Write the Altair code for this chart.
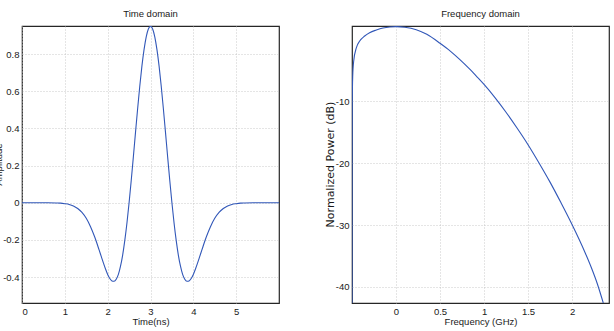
import altair as alt
import pandas as pd

# ---- Time-domain pulse ----
time_ns = [0.0, 0.2, 0.4, 0.6, 0.8, 0.9, 1.0, 1.1, 1.2, 1.3, 1.4, 1.5, 1.6, 1.7, 1.8,
           1.85, 1.9, 1.95, 2.0, 2.05, 2.1, 2.15, 2.2, 2.25, 2.3, 2.35, 2.4, 2.45,
           2.5, 2.55, 2.6, 2.65, 2.7, 2.75, 2.8, 2.85, 2.9, 2.95, 3.0,
           3.05, 3.1, 3.15, 3.2, 3.25, 3.3, 3.35, 3.4, 3.45, 3.5, 3.55, 3.6, 3.65,
           3.7, 3.75, 3.8, 3.85, 3.9, 3.95, 4.0, 4.05, 4.1, 4.15, 4.2, 4.3, 4.4,
           4.5, 4.6, 4.7, 4.8, 4.9, 5.0, 5.1, 5.2, 5.4, 5.6, 5.8, 6.0]
amplitude = [0.0, 0.0, 0.0, 0.0, -0.001, -0.002, -0.005, -0.009, -0.017, -0.031, -0.052,
             -0.084, -0.129, -0.186, -0.254, -0.289, -0.324, -0.357, -0.386, -0.408,
             -0.421, -0.423, -0.412, -0.386, -0.342, -0.282, -0.203, -0.109,
             0.0, 0.120, 0.248, 0.379, 0.508, 0.629, 0.737, 0.826, 0.894, 0.936, 0.95,
             0.936, 0.894, 0.826, 0.737, 0.629, 0.508, 0.379, 0.248, 0.120, 0.0,
             -0.109, -0.203, -0.282, -0.342, -0.386, -0.412, -0.423, -0.421, -0.408,
             -0.386, -0.357, -0.324, -0.289, -0.254, -0.186, -0.129, -0.084, -0.052,
             -0.031, -0.017, -0.009, -0.005, -0.002, -0.001, 0.0, 0.0, 0.0, 0.0]

# ---- Frequency-domain spectrum ----
freq_ghz = [-0.5, -0.499, -0.497, -0.492, -0.481, -0.45, -0.4125, -0.356, -0.3, -0.223,
            -0.148, -0.07, 0.0, 0.1, 0.23, 0.35, 0.5, 0.62, 0.723, 0.832, 0.932, 1.0,
            1.12, 1.25, 1.375, 1.5, 1.625, 1.75, 1.875, 2.0, 2.15, 2.22, 2.29, 2.355]
power_db = [-42.6, -20.0, -10.0, -6.0, -3.5, -1.3, -0.23, 0.58, 1.12, 1.56,
            1.88, 2.05, 2.1, 2.0, 1.6, 0.85, -0.6, -1.9, -3.2, -4.7, -6.2, -7.25,
            -9.3, -11.75, -14.3, -17.0, -19.95, -23.05, -26.4, -29.9, -34.5, -36.9,
            -39.6, -42.6]

time_ticks = [0, 1, 2, 3, 4, 5]
amp_ticks = [-0.4, -0.2, 0, 0.2, 0.4, 0.6, 0.8]
freq_ticks = [0, 0.5, 1, 1.5, 2]
db_ticks = [-40, -30, -20, -10]

FONT = "Liberation Sans Narrow, Arial Narrow, Liberation Sans, Arial, sans-serif"
LINE = "#3157b8"
W, H = 257, 277


def ax(values, title, label_expr, **kw):
    return alt.Axis(values=values, title=title, labelExpr=label_expr,
                    labelFont=FONT, labelFontSize=9.5, labelColor="#1a1a1a",
                    labelPadding=3, ticks=False, domain=False,
                    grid=True, gridDash=[1, 2], gridColor="#bdbdbd", gridWidth=0.8,
                    titleFont=FONT, titleFontSize=9.5, titleFontWeight="normal",
                    titleColor="#1a1a1a", **kw)


left_df = pd.DataFrame({"t": time_ns, "a": amplitude})
left = alt.Chart(left_df).mark_line(color=LINE, strokeWidth=1.1, clip=True,
                                     interpolate="monotone").encode(
    x=alt.X("t:Q", scale=alt.Scale(domain=[0, 6], nice=False, zero=False),
            axis=ax(time_ticks, "Time(ns)", "toString(datum.value)", titlePadding=1)),
    y=alt.Y("a:Q", scale=alt.Scale(domain=[-0.54, 0.952], nice=False, zero=False),
            axis=ax(amp_ticks, "Amplitude",
                    "datum.value == 0 ? '0' : toString(round(datum.value * 10) / 10)",
                    titleX=-19, titleY=138, titleAngle=270, titleBaseline="bottom",
                    titleAlign="center")),
).properties(width=W, height=H,
             title=alt.TitleParams("Time domain", font=FONT, fontSize=9.5,
                                   fontWeight="normal", color="#1a1a1a", offset=8))

right_df = pd.DataFrame({"f": freq_ghz, "p": power_db})
right = alt.Chart(right_df).mark_line(color=LINE, strokeWidth=1.1, clip=True,
                                       interpolate="monotone").encode(
    x=alt.X("f:Q", scale=alt.Scale(domain=[-0.5, 2.42], nice=False, zero=False),
            axis=ax(freq_ticks, "Frequency (GHz)", "toString(datum.value)", titlePadding=1)),
    y=alt.Y("p:Q", scale=alt.Scale(domain=[-42.6, 2.2], nice=False, zero=False),
            axis=alt.Axis(values=db_ticks, title="Normalized Power (dB)",
                          labelExpr="toString(datum.value)",
                          labelFont=FONT, labelFontSize=9.5, labelColor="#1a1a1a",
                          labelPadding=3, ticks=False, domain=False,
                          grid=True, gridDash=[1, 2], gridColor="#bdbdbd", gridWidth=0.8,
                          titleFont="DejaVu Sans", titleFontSize=11,
                          titleFontWeight="normal", titleColor="#1a1a1a",
                          titleX=-17, titleY=138, titleAngle=270,
                          titleBaseline="bottom", titleAlign="center")),
).properties(width=W, height=H,
             title=alt.TitleParams("Frequency domain", font=FONT, fontSize=9.5,
                                   fontWeight="normal", color="#1a1a1a", offset=8))

chart = alt.hconcat(left, right, spacing=73, bounds="flush").properties(
    padding={"left": -8, "top": 7, "right": 0, "bottom": 0},
    background="white",
).configure_view(stroke="#262626", strokeWidth=1.2)

chart.save("out.html", embed_options={"renderer": "svg", "actions": False})
